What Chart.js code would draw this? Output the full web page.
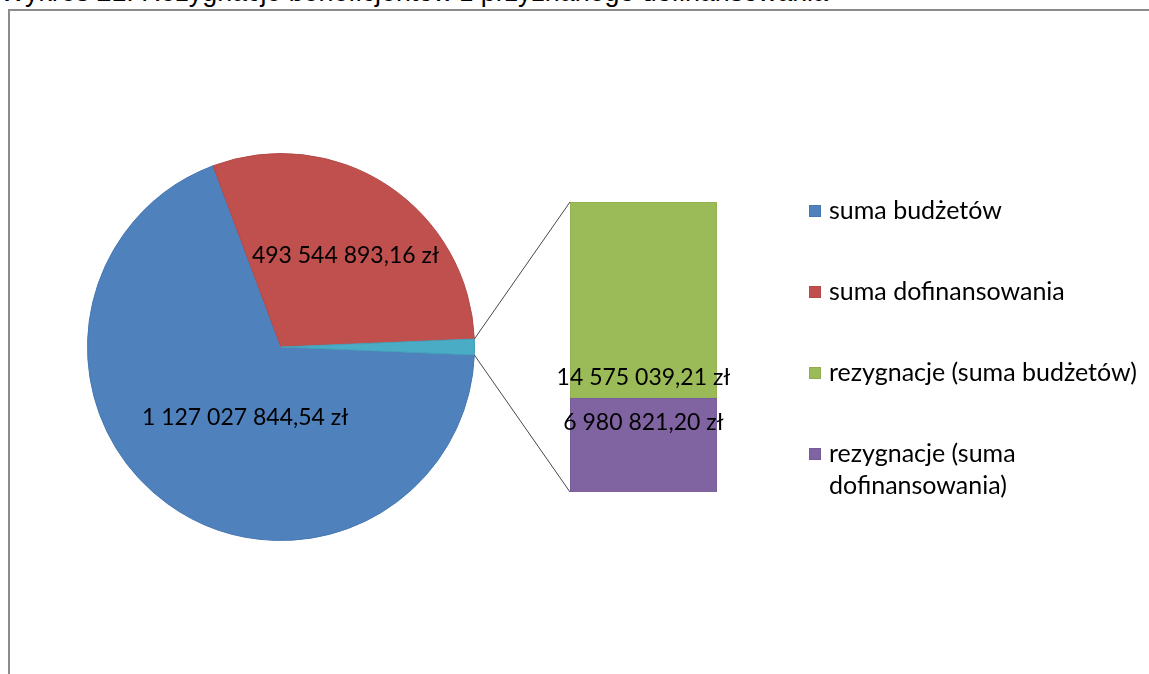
<!DOCTYPE html>
<html lang="pl">
<head>
<meta charset="utf-8">
<title>Wykres 21</title>
<script src="https://cdn.jsdelivr.net/npm/chart.js@4.4.1/dist/chart.umd.min.js"></script>
<style>
  html, body { margin: 0; padding: 0; background: #fff; overflow: hidden; }
  #page { position: relative; width: 1149px; height: 674px; overflow: hidden; }
  #title {
    position: absolute; left: 0; top: -21px;
    font: 26.8px "Liberation Sans", Arial, sans-serif; line-height: 27px;
    white-space: nowrap; color: #000;
  }
  #frame {
    position: absolute; left: 8px; top: 9px; width: 1300px; height: 800px;
    border-left: 2px solid #8c8c8c; border-top: 2px solid #8c8c8c; box-sizing: border-box;
  }
  canvas { position: absolute; left: 0; top: 0; }
</style>
</head>
<body>
<div id="page">
  <div id="title">Wykres 21. Rezygnacje beneficjentów z przyznanego dofinansowania</div>
  <div id="frame"></div>
  <canvas id="pieChart" width="1149" height="674"></canvas>
  <canvas id="barChart" width="1149" height="674"></canvas>
</div>
<script>
// dane wykresu
const pieLabels = ["suma budżetów", "suma dofinansowania"];
const pieValues = [1127027844.54, 493544893.16];
const rezLabels = ["rezygnacje (suma budżetów)", "rezygnacje (suma dofinansowania)"];
const rezValues = [14575039.21, 6980821.20];

const pieColors = ["#4f81bd", "#c0504d"];
const pieBorders = ["#4677b0", "#b24a47"];
const rezColors = ["#9bbb59", "#8064a2"];
const rezBorders = ["#8fae51", "#765c97"];
const otherColor = "#4bacc6";

const labelFont = '23px Lato, "Open Sans", sans-serif';
const legendFont = '25px Lato, "Open Sans", sans-serif';

// format: 1 127 027 844,54 zł
function zl(v) {
  const parts = v.toFixed(2).split(".");
  return parts[0].replace(/\B(?=(\d{3})+(?!\d))/g, " ") + "," + parts[1] + " zł";
}

const rezSum = rezValues.reduce((a, b) => a + b, 0);
const pieData = [...pieValues, rezSum];
const total = pieData.reduce((a, b) => a + b, 0);
// "other" slice centred on the right side, like Excel's pie-of-pie
const rotation = 90 + (rezSum / 2) / total * 360;

// labels inside the pie slices
const pieLabelPlugin = {
  id: "pieLabels",
  afterDatasetsDraw(chart) {
    const ctx = chart.ctx;
    const meta = chart.getDatasetMeta(0);
    const frac = [0.41, 0.58];
    const shift = [-9, 1.5]; // degrees
    ctx.save();
    ctx.font = labelFont;
    ctx.fillStyle = "#000";
    ctx.textAlign = "center";
    ctx.textBaseline = "middle";
    pieValues.forEach((v, i) => {
      const arc = meta.data[i];
      const mid = (arc.startAngle + arc.endAngle) / 2 + shift[i] * Math.PI / 180;
      const r = arc.outerRadius * frac[i];
      ctx.fillText(zl(v), arc.x + Math.cos(mid) * r, arc.y + Math.sin(mid) * r);
    });
    ctx.restore();
  }
};

const pieChart = new Chart(document.getElementById("pieChart"), {
  type: "pie",
  data: {
    labels: [...pieLabels, "rezygnacje"],
    datasets: [{
      data: pieData,
      backgroundColor: [...pieColors, otherColor],
      borderColor: [...pieBorders, "#44a0b9"],
      borderWidth: 1,
      hoverOffset: 0
    }]
  },
  options: {
    responsive: false,
    animation: false,
    events: [],
    rotation: rotation,
    layout: { padding: { left: 87, right: 674, top: 153, bottom: 133 } },
    plugins: { legend: { display: false }, tooltip: { enabled: false } }
  },
  plugins: [pieLabelPlugin]
});

// connectors, bar labels and the legend
const barExtrasPlugin = {
  id: "barExtras",
  afterDatasetsDraw(chart) {
    const ctx = chart.ctx;
    const bottomBar = chart.getDatasetMeta(0).data[0];
    const topBar = chart.getDatasetMeta(1).data[0];
    const left = topBar.x - topBar.width / 2;

    // lines from the small pie slice to the bar
    const arc = pieChart.getDatasetMeta(0).data[2];
    ctx.save();
    ctx.strokeStyle = "#474747";
    ctx.lineWidth = 1;
    ctx.beginPath();
    ctx.moveTo(arc.x + Math.cos(arc.startAngle) * arc.outerRadius, arc.y + Math.sin(arc.startAngle) * arc.outerRadius);
    ctx.lineTo(left, topBar.y);
    ctx.moveTo(arc.x + Math.cos(arc.endAngle) * arc.outerRadius, arc.y + Math.sin(arc.endAngle) * arc.outerRadius);
    ctx.lineTo(left, bottomBar.base);
    ctx.stroke();

    // bar value labels
    ctx.font = labelFont;
    ctx.fillStyle = "#000";
    ctx.textAlign = "center";
    ctx.textBaseline = "middle";
    ctx.fillText(zl(rezValues[0]), topBar.x, topBar.base - 21);
    ctx.fillText(zl(rezValues[1]), bottomBar.x, bottomBar.y + 24);

    // legend
    const items = [
      ...pieLabels.map((t, i) => ({ text: t, color: pieColors[i], border: pieBorders[i] })),
      ...rezLabels.map((t, i) => ({ text: t, color: rezColors[i], border: rezBorders[i] }))
    ];
    const boxX = 809, textX = 829, firstY = 211, step = 81, lineH = 32, maxW = 318;
    ctx.font = legendFont;
    ctx.textAlign = "left";
    items.forEach((item, i) => {
      const y = firstY + i * step;
      ctx.fillStyle = item.color;
      ctx.fillRect(boxX, y - 6, 12, 12);
      ctx.strokeStyle = item.border;
      ctx.strokeRect(boxX + 0.5, y - 5.5, 11, 11);
      // simple word wrap
      const lines = [];
      let line = "";
      item.text.split(" ").forEach(w => {
        const test = line ? line + " " + w : w;
        if (ctx.measureText(test).width > maxW && line) {
          lines.push(line);
          line = w;
        } else {
          line = test;
        }
      });
      lines.push(line);
      ctx.fillStyle = "#000";
      lines.forEach((l, k) => ctx.fillText(l, textX, y + k * lineH));
    });
    ctx.restore();
  }
};

new Chart(document.getElementById("barChart"), {
  type: "bar",
  data: {
    labels: ["rezygnacje"],
    datasets: [
      { label: rezLabels[1], data: [rezValues[1]], backgroundColor: rezColors[1], borderColor: rezBorders[1], borderWidth: 1 },
      { label: rezLabels[0], data: [rezValues[0]], backgroundColor: rezColors[0], borderColor: rezBorders[0], borderWidth: 1 }
    ]
  },
  options: {
    responsive: false,
    animation: false,
    events: [],
    barPercentage: 1,
    categoryPercentage: 1,
    layout: { padding: { left: 570, right: 432, top: 202, bottom: 182 } },
    scales: {
      x: { stacked: true, display: false },
      y: { stacked: true, display: false, min: 0, max: rezSum }
    },
    plugins: { legend: { display: false }, tooltip: { enabled: false } }
  },
  plugins: [barExtrasPlugin]
});
</script>
</body>
</html>
